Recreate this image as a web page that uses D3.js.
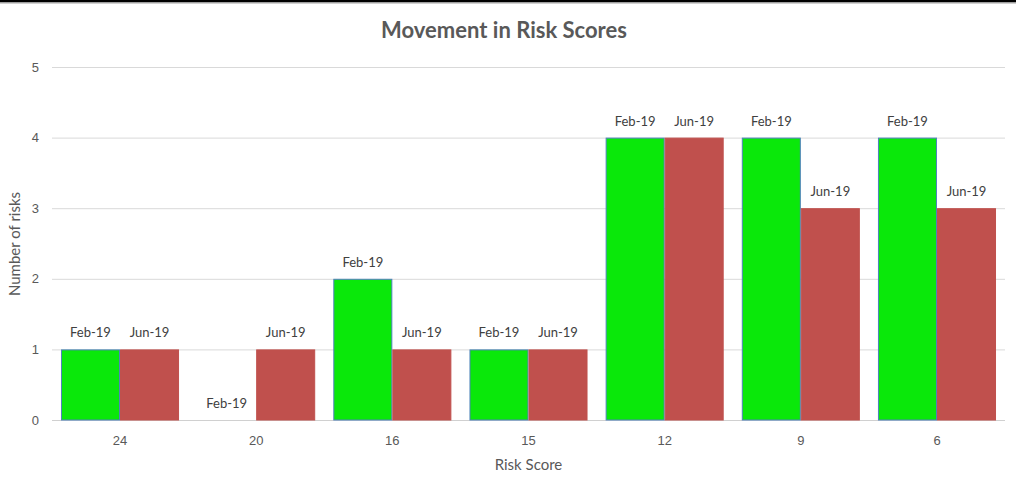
<!DOCTYPE html>
<html><head><meta charset="utf-8">
<script src="https://cdn.jsdelivr.net/npm/d3@7"></script>
<style>body{margin:0;background:#fff;}svg{display:block;font-family:Lato,"Open Sans",sans-serif;}</style>
</head><body><svg id="c" width="1016" height="494"></svg>
<script>
const categories = ["24","20","16","15","12","9","6"];
const seriesNames = ["Feb-19","Jun-19"];
const feb19 = [1,0,2,1,4,4,4];
const jun19 = [1,1,1,1,4,3,3];
const yTicks = [0,1,2,3,4,5];

const svg = d3.select("#c");
const W=1016,H=494;
const m={l:52,r:11,t:67,b:74};
svg.append("rect").attr("x",0).attr("y",0).attr("width",W).attr("height",2.5).attr("fill","#000");
svg.append("rect").attr("x",0).attr("y",2.5).attr("width",W).attr("height",1.2).attr("fill","#bdbdbd");

const x = d3.scaleBand().domain(categories).range([m.l,W-m.r]).paddingInner(0.133).paddingOuter(0.066);
const xs = d3.scaleBand().domain(seriesNames).range([0,x.bandwidth()]);
const y = d3.scaleLinear().domain([0,5]).range([H-m.b,m.t]);

// gridlines
svg.append("g").selectAll("line").data(yTicks.filter(d=>d>0)).join("line")
  .attr("x1",m.l).attr("x2",W-m.r).attr("y1",d=>y(d)+0.5).attr("y2",d=>y(d)+0.5)
  .attr("stroke","#d9d9d9").attr("stroke-width",1);
svg.append("line").attr("x1",m.l).attr("x2",W-m.r).attr("y1",y(0)+0.5).attr("y2",y(0)+0.5)
  .attr("stroke","#d0d0d0").attr("stroke-width",1);

// y axis
const ya = svg.append("g").attr("transform",`translate(${m.l-8},0)`)
  .call(d3.axisLeft(y).tickValues(yTicks).tickFormat(d3.format("d")).tickSize(0).tickPadding(0));
ya.select(".domain").remove();
ya.selectAll("text").attr("fill","#595959").style("font-size","13px").attr("dx","-5");

// x axis
const xa = svg.append("g").attr("transform",`translate(0,${y(0)})`)
  .call(d3.axisBottom(x).tickSize(0).tickPadding(16));
xa.select(".domain").remove();
xa.selectAll("text").attr("fill","#595959").style("font-size","13px");

const colors = {"Feb-19":"#0ae80a","Jun-19":"#c0504d"};
const strokes = {"Feb-19":"#4f81bd","Jun-19":"#c0504d"};
const data = categories.map((c,i)=>({c, vals:[{s:"Feb-19",v:feb19[i]},{s:"Jun-19",v:jun19[i]}]}));

const g = svg.append("g").selectAll("g").data(data).join("g").attr("transform",d=>`translate(${x(d.c)},0)`);
g.selectAll("rect").data(d=>d.vals.filter(v=>v.v>0)).join("rect")
  .attr("x",d=>xs(d.s)+0.5).attr("width",xs.bandwidth()-1)
  .attr("y",d=>y(d.v)+0.5).attr("height",d=>y(0)-y(d.v)-0.5)
  .attr("fill",d=>colors[d.s]).attr("stroke",d=>strokes[d.s]).attr("stroke-width",1);
g.selectAll("text").data(d=>d.vals).join("text")
  .attr("x",d=>xs(d.s)+xs.bandwidth()/2).attr("y",d=>y(d.v)-12)
  .attr("text-anchor","middle").attr("fill","#404040").style("font-size","13px")
  .text(d=>d.s);

svg.append("text").attr("x",504).attr("y",38).attr("text-anchor","middle")
  .attr("fill","#595959").style("font-size","22px").style("font-weight","bold").text("Movement in Risk Scores");
svg.append("text").attr("x",(m.l+W-m.r)/2).attr("y",470).attr("text-anchor","middle")
  .attr("fill","#595959").style("font-size","15px").text("Risk Score");
svg.append("text").attr("transform",`translate(20,244) rotate(-90)`).attr("text-anchor","middle")
  .attr("fill","#595959").style("font-size","15px").text("Number of risks");
</script></body></html>
